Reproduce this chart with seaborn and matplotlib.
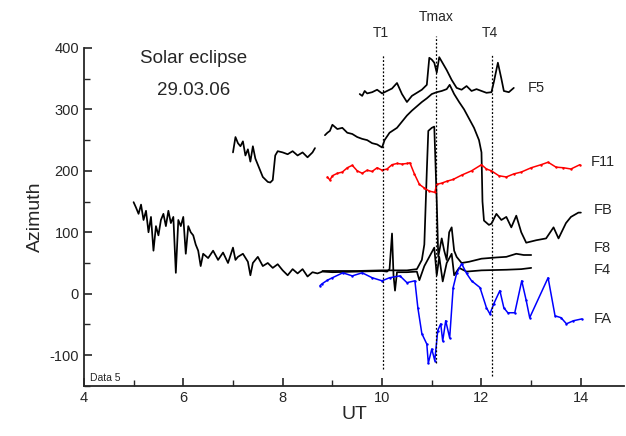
import matplotlib
matplotlib.use("Agg")
import matplotlib.pyplot as plt
from matplotlib.ticker import MultipleLocator
import seaborn as sns
import pandas as pd

# values (UT hours, azimuth degrees)
f4_x = [5.0, 5.05, 5.1, 5.15, 5.2, 5.25, 5.3, 5.35, 5.4, 5.45, 5.5, 5.55, 5.6, 5.65, 5.7,
        5.75, 5.8, 5.85, 5.9, 5.95, 6.0, 6.05, 6.1, 6.15, 6.2, 6.25, 6.3, 6.35, 6.4, 6.5,
        6.6, 6.7, 6.8, 6.9, 7.0, 7.05, 7.1, 7.2, 7.3, 7.35, 7.4, 7.5, 7.6, 7.7, 7.8, 7.9,
        8.0, 8.1, 8.2, 8.3, 8.4, 8.5, 8.6, 8.7, 8.8, 9.0, 9.5, 10.0, 10.1, 10.15, 10.2,
        10.23, 10.26, 10.3, 10.5, 10.7, 10.75, 10.85, 10.95, 11.05, 11.1, 11.15, 11.22,
        11.3, 11.4, 11.45, 11.55, 11.7, 12.0, 12.5, 12.8, 13.0]
f4_y = [149, 140, 130, 145, 120, 135, 100, 125, 70, 110, 95, 120, 130, 110, 135,
        115, 125, 34, 120, 110, 125, 65, 110, 100, 95, 80, 70, 45, 65, 58,
        70, 55, 67, 50, 75, 55, 60, 65, 52, 30, 50, 60, 45, 50, 42, 48,
        38, 30, 40, 33, 40, 28, 35, 33, 36, 35, 36, 37, 36, 40, 98,
        30, 5, 35, 35, 36, 22, 45, 60, 75, 30, 60, 20,
        50, 65, 30, 42, 36, 38, 39, 40, 42]

f8_x = [8.8, 9.5, 10.0, 10.5, 10.7, 10.8, 10.85, 10.9, 10.93, 11.0, 11.05, 11.1, 11.13,
        11.2, 11.25, 11.3, 11.35, 11.4, 11.45, 11.5, 11.6, 11.75, 12.0, 12.3, 12.5,
        12.7, 12.85, 13.0]
f8_y = [37, 37, 38, 38, 40, 55, 80, 200, 265, 270, 272, 150, 60,
        90, 70, 55, 100, 108, 70, 60, 50, 52, 57, 59, 60,
        65, 63, 63]

early_x = [7.0, 7.05, 7.1, 7.15, 7.2, 7.25, 7.3, 7.35, 7.4, 7.45, 7.5, 7.55, 7.6, 7.7,
           7.75, 7.8, 7.85, 7.9, 8.0, 8.1, 8.2, 8.3, 8.4, 8.5, 8.6, 8.65]
early_y = [230, 255, 245, 240, 248, 225, 235, 215, 240, 220, 210, 200, 190, 182,
           181, 185, 225, 232, 230, 227, 232, 225, 230, 222, 230, 237]

fb_x = [8.85, 8.9, 8.95, 9.0, 9.1, 9.2, 9.3, 9.4, 9.5, 9.6, 9.7, 9.8, 9.9, 10.0, 10.05,
        10.15, 10.3, 10.4, 10.5, 10.6, 10.7, 10.8, 10.9, 11.0, 11.1, 11.2, 11.3, 11.36,
        11.45, 11.55, 11.65, 11.75, 11.85, 11.95, 12.0, 12.02, 12.05, 12.15, 12.2, 12.3,
        12.4, 12.5, 12.6, 12.7, 12.8, 12.9, 13.1, 13.3, 13.45, 13.55, 13.7, 13.8, 13.95, 14.0]
fb_y = [258, 262, 265, 275, 268, 270, 262, 260, 255, 252, 250, 245, 243, 238, 250,
        262, 270, 280, 290, 298, 305, 312, 318, 325, 328, 330, 333, 340,
        325, 312, 300, 285, 270, 250, 230, 150, 119, 112, 114, 130,
        120, 125, 108, 127, 100, 83, 87, 90, 108, 90, 115, 125, 132, 132]

f5_x = [9.55, 9.6, 9.65, 9.7, 9.8, 9.9, 10.0, 10.1, 10.2, 10.3, 10.4, 10.5, 10.6, 10.7,
        10.8, 10.9, 10.95, 11.0, 11.05, 11.1, 11.15, 11.2, 11.3, 11.4, 11.5, 11.6, 11.7,
        11.8, 11.9, 12.0, 12.1, 12.2, 12.25, 12.33, 12.4, 12.45, 12.55, 12.65]
f5_y = [325, 322, 330, 326, 328, 332, 326, 330, 334, 343, 325, 312, 322, 327,
        332, 340, 384, 381, 376, 360, 385, 378, 364, 348, 335, 332, 338,
        330, 333, 330, 327, 328, 345, 376, 350, 330, 328, 335]

f11_x = [8.9, 8.95, 9.0, 9.1, 9.2, 9.3, 9.4, 9.5, 9.6, 9.7, 9.8, 9.9, 10.0, 10.1, 10.2,
         10.3, 10.4, 10.5, 10.56, 10.65, 10.75, 10.85, 10.95, 11.06, 11.1, 11.2, 11.3,
         11.43, 11.6, 11.8, 12.0, 12.1, 12.2, 12.35, 12.5, 12.65, 12.8, 13.0, 13.2, 13.34,
         13.5, 13.65, 13.8, 13.98]
f11_y = [190, 185, 192, 196, 198, 205, 209, 200, 196, 201, 199, 205, 201, 203, 210,
         212, 211, 212, 213, 195, 178, 172, 167, 165, 178, 180, 183,
         186, 193, 200, 210, 203, 200, 192, 190, 195, 198, 205, 210, 214,
         206, 205, 203, 210]

fa_x = [8.75, 8.79, 8.9, 9.0, 9.21, 9.4, 9.6, 9.8, 10.0, 10.15, 10.36, 10.5, 10.66, 10.72,
        10.8, 10.9, 10.93, 11.0, 11.06, 11.12, 11.18, 11.22, 11.28, 11.36, 11.43, 11.5,
        11.6, 11.7, 11.8, 11.97, 12.1, 12.17, 12.25, 12.37, 12.45, 12.53, 12.67, 12.81,
        12.9, 12.97, 13.34, 13.48, 13.6, 13.71, 13.85, 14.02]
fa_y = [13, 16, 22, 26, 34, 29, 34, 26, 21, 26, 29, 18, 21, -23,
        -65, -82, -113, -90, -109, -60, -49, -77, -44, -72, 10, 33,
        49, 33, 21, 10, -23, -33, -16, 5, -23, -31, -31, 21,
        -11, -39, 26, -36, -39, -49, -44, -41]

event_names = ["T1", "Tmax", "T4"]
event_times = [10.02, 11.08, 12.22]

series_names = ["F4", "F8", "", "FB", "F5", "F11", "FA"]
label_pos_y = [38, 74, None, 136, 335, 214, -41]

sns.set_style("ticks")
plt.rcParams["font.family"] = ["Liberation Sans", "DejaVu Sans"]
plt.rcParams["axes.unicode_minus"] = False

frames = []
for name, xs, ys in [("F4", f4_x, f4_y), ("F8", f8_x, f8_y), ("early", early_x, early_y),
                     ("FB", fb_x, fb_y), ("F5", f5_x, f5_y), ("F11", f11_x, f11_y),
                     ("FA", fa_x, fa_y)]:
    frames.append(pd.DataFrame({"UT": xs, "Azimuth": ys, "series": name}))
df = pd.concat(frames, ignore_index=True)

palette = {"F4": "black", "F8": "black", "early": "black", "FB": "black",
           "F5": "black", "F11": "red", "FA": "blue"}

fig = plt.figure(figsize=(6.26, 4.36), dpi=100)
ax = fig.add_axes([0.134, 0.115, 0.863, 0.775])

for name in ["F4", "F8", "early", "FB", "F5"]:
    sns.lineplot(data=df[df.series == name], x="UT", y="Azimuth", color=palette[name],
                 estimator=None, sort=False, lw=1.25, ax=ax)
for name in ["F11", "FA"]:
    sns.lineplot(data=df[df.series == name], x="UT", y="Azimuth", color=palette[name],
                 estimator=None, sort=False, lw=1.1, marker=".", markersize=3.5,
                 markeredgewidth=0, ax=ax)

# eclipse contact lines
line_tops = [389, 420, 389]
line_bottoms = [-122, -112, -134]
for t, name, top, bot in zip(event_times, event_names, line_tops, line_bottoms):
    ax.plot([t, t], [bot, top], ls=(0, (1.5, 1.5)), color="black", lw=0.9, clip_on=False)
    ty = 451 if name == "Tmax" else 425
    ax.text(t - 0.05 if name != "Tmax" else t, ty, name, ha="center", va="center",
            fontsize=10, clip_on=False)

# series labels at the right
label_x = {"F5": 13.11}
for name, ly in zip(series_names, label_pos_y):
    if ly is None:
        continue
    ax.text(label_x.get(name, 14.44), ly, name, ha="center", va="center", fontsize=10.5)

ax.text(6.2, 383, "Solar eclipse", ha="center", va="center", fontsize=13.5)
ax.text(6.2, 331, "29.03.06", ha="center", va="center", fontsize=13.5)
ax.text(4.12, -137, "Data 5", ha="left", va="center", fontsize=7.5)

ax.set_xlim(4, 14.87)
ax.set_ylim(-150, 400)
ax.xaxis.set_major_locator(MultipleLocator(2))
ax.xaxis.set_minor_locator(MultipleLocator(1))
ax.yaxis.set_major_locator(MultipleLocator(100))
ax.yaxis.set_minor_locator(MultipleLocator(50))
ax.tick_params(which="both", direction="in", labelsize=10.5)
ax.tick_params(which="major", length=6, width=1.2)
ax.tick_params(which="minor", length=4, width=1.0)
ax.set_xlabel("UT", fontsize=14, labelpad=1)
ax.set_ylabel("Azimuth", fontsize=14, labelpad=4)
for s in ["top", "right"]:
    ax.spines[s].set_visible(False)
for s in ["left", "bottom"]:
    ax.spines[s].set_linewidth(1.3)

fig.savefig("out.png", dpi=100)
